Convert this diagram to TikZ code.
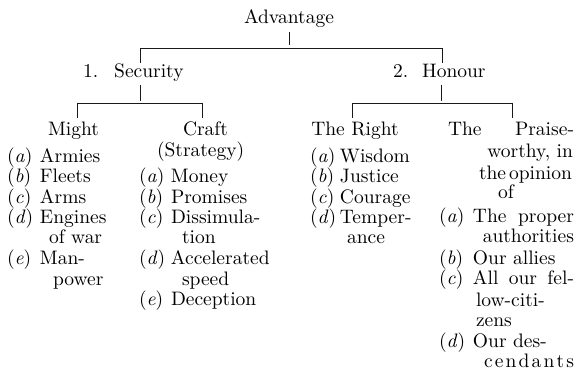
\documentclass[tikz,border=0pt]{standalone}
\usepackage{fontspec}
\setmainfont{lmroman10-regular}[Extension=.otf, ItalicFont=lmroman10-italic]
\tikzset{
  txt/.style={anchor=base west, inner sep=0pt, outer sep=0pt, font=\fontsize{19.5}{20.5}\selectfont, text=black},
  txte/.style={txt, anchor=base east},
  txtc/.style={txt, anchor=base},
  head/.style={text height=14pt, text depth=4pt},
  conn/.style={line width=0.9pt, black!90},
}
\newcommand{\lbl}[2][32pt]{\makebox[#1][l]{(\textit{#2})}}
\begin{document}
\begin{tikzpicture}[x=1pt,y=-1pt]
\useasboundingbox (0,0) rectangle (576,371);
% headings
\node[txtc,head] (adv) at (289,24) {Advantage};
\node[txt,head] (sec) at (83,78) {1.\hspace{16pt}Security};
\node[txt,head] (hon) at (393,78) {2.\hspace{14pt}Honour};
\node[txt,head] (might) at (48,136) {Might};
\node[txt,head] (craft) at (183,136) {Craft};
\node[txt] (strat) at (157,157) {(Strategy)};
\node[txtc,head] (right) at (355,136) {The Right};
\node[txt,head] (pthe) at (448,136) {The};
\node[txte,head] (praise) at (574,136) {Praise-};
\node[txte] (p2) at (573,158) {worthy, in};
\node[txte] (p3) at (572,180) {the\hspace{3pt}opinion};
\node[txt] (p4) at (498,199) {of};
% Might
\node[txt] (m1) at (7,163) {\lbl[33pt]{a}Armies};
\node[txt] (m2) at (7,183) {\lbl[33pt]{b}Fleets};
\node[txt] (m3) at (7,204) {\lbl[33pt]{c}Arms};
\node[txt] (m4) at (7,224) {\lbl[33pt]{d}Engines};
\node[txt] (m4b) at (49,244) {of war};
\node[txt] (m5) at (7,265) {\lbl[33pt]{e}Man-};
\node[txt] (m5b) at (53,286) {power};
% Craft
\node[txt] (c1) at (139,183) {\lbl[32pt]{a}Money};
\node[txt] (c2) at (139,204) {\lbl[32pt]{b}Promises};
\node[txt] (c3) at (139,224) {\lbl[32pt]{c}Dissimula-};
\node[txt] (c3b) at (182,244) {tion};
\node[txt] (c4) at (139,265) {\lbl[32pt]{d}Accelerated};
\node[txt] (c4b) at (182,286) {speed};
\node[txt] (c5) at (139,306) {\lbl[32pt]{e}Deception};
% The Right
\node[txt] (r1) at (310,163) {\lbl[30pt]{a}Wisdom};
\node[txt] (r2) at (310,183) {\lbl[30pt]{b}Justice};
\node[txt] (r3) at (310,204) {\lbl[30pt]{c}Courage};
\node[txt] (r4) at (310,224) {\lbl[30pt]{d}Temper-};
\node[txt] (r4b) at (347,244) {ance};
% The Praiseworthy
\node[txt] (q1) at (439,223) {\makebox[135pt][s]{\lbl[34pt]{a}The proper}};
\node[txte] (q1b) at (574,243) {authorities};
\node[txt] (q2) at (439,265) {\lbl[34pt]{b}Our allies};
\node[txt] (q3) at (439,285) {\makebox[135pt][s]{\lbl[34pt]{c}All our fel-}};
\node[txt] (q3b) at (476,307) {low-citi-};
\node[txt] (q3c) at (476,327) {zens};
\node[txt] (q4) at (439,348) {\lbl[34pt]{d}Our des-};
\node[txte] (q4b) at (574,368) {\hbox to 90pt{c\hfil e\hfil n\hfil d\hfil a\hfil n\hfil t\hfil s}};
% junction coordinates
\coordinate (b0m) at (289,48);
\coordinate (b0l) at (140,48);
\coordinate (b0r) at (442,48);
\coordinate (b1m) at (140,103);
\coordinate (b1l) at (77,103);
\coordinate (b1r) at (202,103);
\coordinate (b2m) at (441,103);
\coordinate (b2l) at (352,103);
\coordinate (b2r) at (512,103);
% connectors
\draw[conn, shorten <=4pt, shorten >=3pt] (adv.south) -- (b0m);
\draw[conn] (b0l) -- (b0r);
\draw[conn, shorten >=1pt] (b0l) -- (b0l |- sec.north);
\draw[conn, shorten >=1pt] (b0r) -- (b0r |- hon.north);
\draw[conn, shorten <=3pt, shorten >=2pt] (b1m |- sec.south) -- (b1m);
\draw[conn, shorten <=3pt, shorten >=2pt] (b2m |- hon.south) -- (b2m);
\draw[conn] (b1l) -- (b1r);
\draw[conn] (b2l) -- (b2r);
\draw[conn, shorten >=4pt] (b1l) -- (b1l |- might.north);
\draw[conn, shorten >=4pt] (b1r) -- (b1r |- craft.north);
\draw[conn, shorten >=4pt] (b2l) -- (b2l |- right.north);
\draw[conn, shorten >=4pt] (b2r) -- (b2r |- praise.north);
\end{tikzpicture}
\end{document}
